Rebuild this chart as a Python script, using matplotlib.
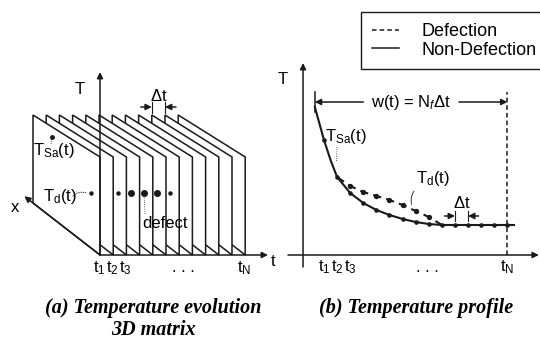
import matplotlib.pyplot as plt
from matplotlib.patches import Polygon
from matplotlib.lines import Line2D

plt.rcParams['font.family'] = 'Liberation Sans'
plt.rcParams['mathtext.fontset'] = 'custom'
plt.rcParams['mathtext.rm'] = 'Liberation Sans'
plt.rcParams['mathtext.it'] = 'Liberation Sans:italic'

INK = '#1a1a1a'

# (a) temperature evolution 3D matrix, one frame per sampling time
n_frames = 12
dot_frames = [1, 3, 4, 5, 6, 7]
big_dot_frames = [4, 5, 6]
defect_frame = 5
defect_row = (0.13, 0.57)   # (depth, height) inside a frame
sa_point = (0.72, 0.89)
a_ticks = [1, 2, 3, 7.4, 12]
tick_labels = ['t$_1$', 't$_2$', 't$_3$', '. . .', 't$_\\mathrm{N}$']

# (b) temperature profile against sample index
k_solid = [0.3, 1, 1.5, 2, 3, 4, 5, 6, 7, 8, 9, 10, 11, 12, 13, 14, 15, 15.5]
T_solid = [14.8, 11.5, 9.5, 7.8, 6.2, 5.2, 4.5, 4.0, 3.6, 3.3, 3.1, 3.0, 3.0, 3.0, 3.0, 3.0, 3.0, 3.0]
k_dash = [2, 3, 4, 5, 6, 7, 8, 9, 10]
T_dash = [7.8, 6.9, 6.3, 5.9, 5.5, 5.0, 4.4, 3.8, 3.0]
b_ticks = [1, 2, 3, 8.9, 15]


def proj(t, d, h):
    # oblique view: time to the right, depth up-left, height up
    x = 100 + 13.2 * (t - 1) - 67 * d
    y = 255 - 52 * d - h * (98 - 10 * d)
    return x, y


def arrow(axis, start, end, z=50):
    axis.annotate('', xy=end, xytext=start, zorder=z, annotation_clip=False,
                  arrowprops=dict(arrowstyle='-|>', color=INK, lw=1.1,
                                  mutation_scale=9, shrinkA=0, shrinkB=0))


fig = plt.figure(figsize=(5.4, 3.43), dpi=100)
ax = fig.add_axes([0, 0, 1, 1])
ax.set_xlim(0, 540)
ax.set_ylim(343, 0)
ax.axis('off')

for i in range(n_frames, 0, -1):
    corners = [proj(i, 0, 0), proj(i, 0, 1), proj(i, 1, 1), proj(i, 1, 0)]
    ax.add_patch(Polygon(corners, closed=True, fc='white', ec=INK, lw=1.1,
                         zorder=10 + n_frames - i))

arrow(ax, proj(1, 0, 0), (268, 255))
arrow(ax, proj(1, 0, 0), (100, 72))
arrow(ax, proj(1, 0, 0), proj(1, 1.13, 0))
ax.text(80, 90, 'T', fontsize=12, ha='center', va='center')
ax.text(15, 208, 'x', fontsize=12, ha='center', va='center')
ax.text(273, 262, 't', fontsize=12, ha='center', va='center')

sx, sy = proj(1, *sa_point)
ax.plot(sx, sy, 'o', color=INK, ms=2.5, zorder=40)
for i in dot_frames:
    px, py = proj(i, *defect_row)
    ax.plot(px, py, 'o', color=INK, ms=4 if i in big_dot_frames else 2.2,
            zorder=10 + n_frames - i + 0.5)

ax.text(33, 150, 'T$_{\\mathrm{Sa}}$(t)', fontsize=12, ha='left', va='center', zorder=40)
ax.plot([51, sx], [144, sy + 2], color=INK, lw=0.6, ls=':', zorder=40)
dx, dy = proj(1, *defect_row)
ax.text(43, 197, 'T$_{\\mathrm{d}}$(t)', fontsize=12, ha='left', va='center', zorder=40)
ax.annotate('', xy=(dx - 2, dy + 1), xytext=(71, 198), zorder=40,
            arrowprops=dict(arrowstyle='-', color=INK, lw=0.6, ls=':',
                            connectionstyle='arc3,rad=-0.4'))
fx, fy = proj(defect_frame, *defect_row)
ax.text(165, 224, 'defect', fontsize=12, ha='center', va='center', zorder=40)
ax.plot([fx + 1, fx], [214, fy + 3], color=INK, lw=0.6, ls=':', zorder=40)

# delta t between two frame corners at the top
x10, y10 = proj(10, 1, 1)
x11, _ = proj(11, 1, 1)
for xx in (x10, x11):
    ax.plot([xx, xx], [y10 - 2, y10 - 13], color=INK, lw=0.8, zorder=40)
arrow(ax, (x10 - 11, y10 - 8), (x10, y10 - 8))
arrow(ax, (x11 + 11, y10 - 8), (x11, y10 - 8))
ax.text((x10 + x11) / 2, y10 - 19, '$\\Delta$t', fontsize=12, ha='center', va='center')

for t, lab in zip(a_ticks, tick_labels):
    ax.text(proj(t, 0, 0)[0] - 1, 268, lab, fontsize=12, ha='center', va='center')

# (b) profile axes
bx = fig.add_axes([278 / 540, 88 / 343, 262 / 540, 200 / 343])
bx.set_xlim(-2.511, 17.489)
bx.set_ylim(0, 20)
bx.axis('off')

arrow(bx, (-1.75, 0), (17.4, 0))
arrow(bx, (-0.6, -1.2), (-0.6, 19.2))
bx.text(-2.13, 17.5, 'T', fontsize=12, ha='center', va='center')

bx.plot(k_solid, T_solid, color=INK, lw=1.5, clip_on=False)
bx.plot(k_dash, T_dash, color=INK, lw=1.5, ls=(0, (4, 2.5)), clip_on=False)
dot_k = [k for k in k_solid if k == int(k)]
dot_T = [T for k, T in zip(k_solid, T_solid) if k == int(k)]
bx.plot(dot_k, dot_T, 'o', color=INK, ms=2.3, clip_on=False)
bx.plot(k_dash[1:-1], T_dash[1:-1], 'o', color=INK, ms=2.8, clip_on=False)

# observation window
bx.plot([0.3, 0.3], [14.3, 16.3], color=INK, lw=1.1, clip_on=False)
bx.plot([15, 15], [0, 16.3], color=INK, lw=1.1, ls=(0, (3, 2)), clip_on=False)
arrow(bx, (4.0, 15.3), (0.3, 15.3))
arrow(bx, (11.3, 15.3), (15, 15.3))
bx.text(7.64, 15.3, 'w(t) = N$_{f}$$\\Delta$t', fontsize=12, ha='center', va='center')

bx.text(1.08, 11.8, 'T$_{\\mathrm{Sa}}$(t)', fontsize=12, ha='left', va='center')
bx.plot([2.0, 1.95], [10.8, 9.4], color=INK, lw=0.6, ls=':', clip_on=False)
bx.text(9.3, 7.7, 'T$_{\\mathrm{d}}$(t)', fontsize=12, ha='center', va='center')
bx.annotate('', xy=(7.75, 4.8), xytext=(8.0, 6.6),
            arrowprops=dict(arrowstyle='-', color=INK, lw=0.6,
                            connectionstyle='arc3,rad=0.3'))

for kk in (11, 12):
    bx.plot([kk, kk], [3.4, 4.4], color=INK, lw=0.8, clip_on=False)
arrow(bx, (10.2, 3.9), (11, 3.9))
arrow(bx, (12.8, 3.9), (12, 3.9))
bx.text(11.5, 5.2, '$\\Delta$t', fontsize=12, ha='center', va='center')

for k, lab in zip(b_ticks, tick_labels):
    bx.text(k, -1.2, lab, fontsize=12, ha='center', va='center')

cap = dict(family='Liberation Serif', weight='bold', style='italic', size=14.5,
           ha='center', va='center')
fig.text(153 / 540, 1 - 308 / 343, '(a) Temperature evolution', **cap)
fig.text(153 / 540, 1 - 330 / 343, '3D matrix', **cap)
fig.text(416 / 540, 1 - 308 / 343, '(b) Temperature profile', **cap)

handles = [Line2D([], [], color=INK, lw=1.1, ls=(0, (3, 2))),
           Line2D([], [], color=INK, lw=1.1)]
leg = fig.legend(handles, ['Defection', 'Non-Defection'], loc='upper left',
                 bbox_to_anchor=(361 / 540, 1 - 12 / 343), frameon=True,
                 fancybox=False, edgecolor=INK, framealpha=1, fontsize=13,
                 handlelength=1.5, handletextpad=1.25, labelspacing=0.1,
                 borderpad=0.6, borderaxespad=0)
leg.get_frame().set_linewidth(1.0)

fig.savefig('out.png', dpi=100)
